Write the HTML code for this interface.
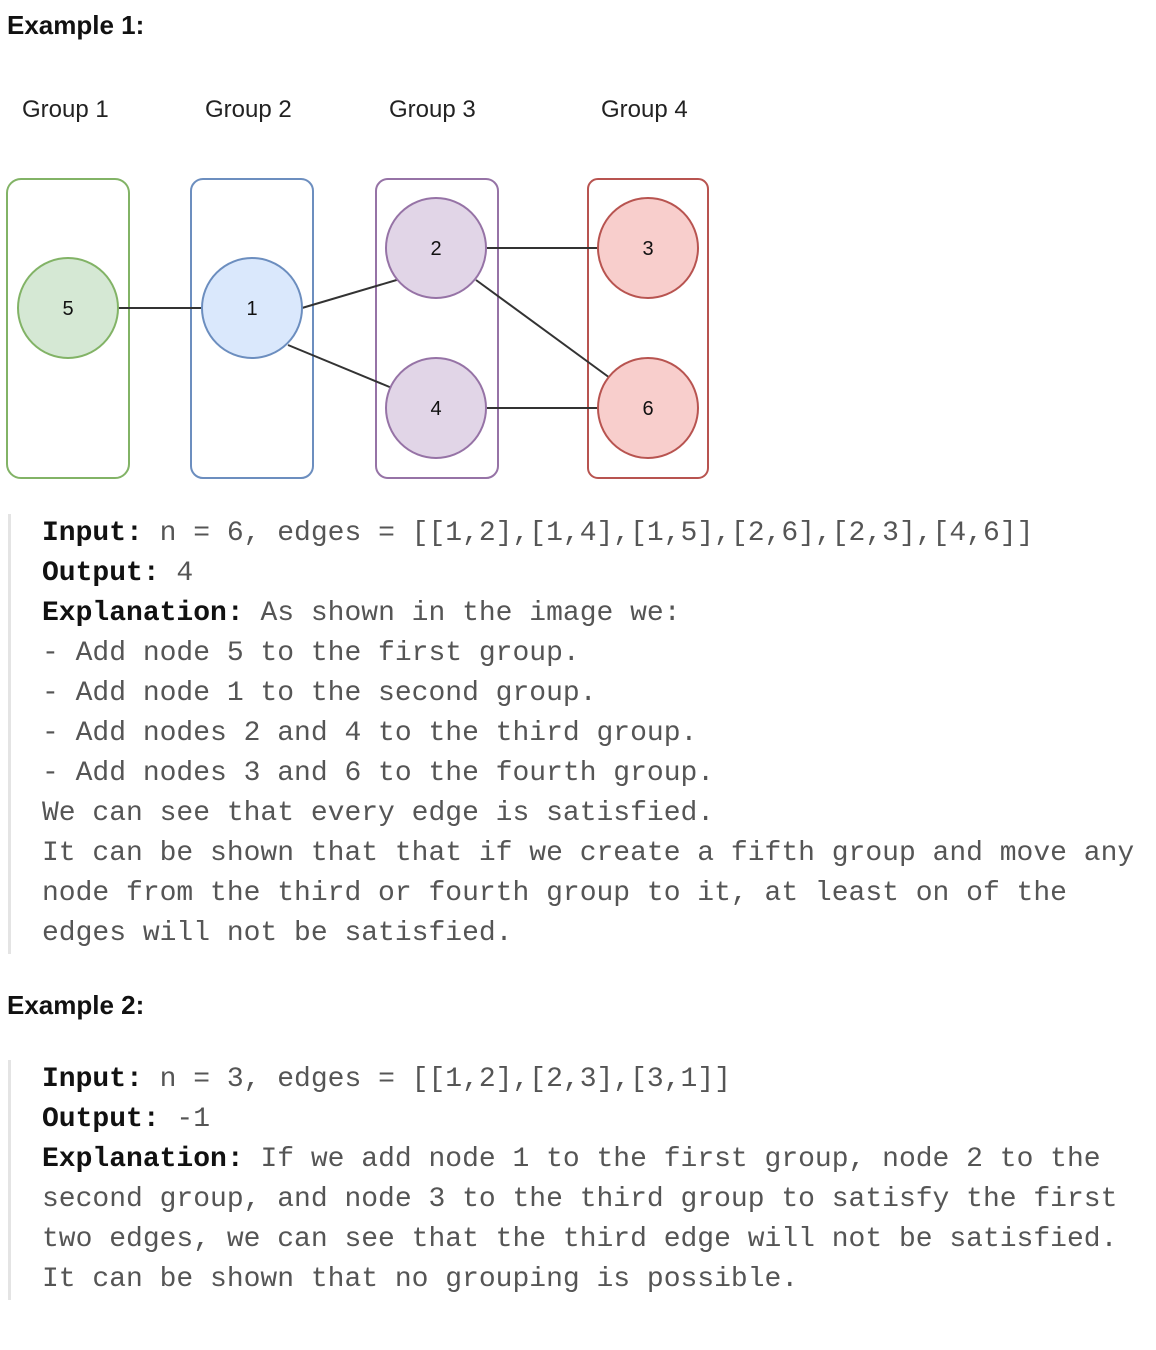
<!DOCTYPE html>
<html><head><meta charset="utf-8"><style>
body{margin:0;background:#fff;width:1156px;height:1350px;position:relative;font-family:"Liberation Sans",sans-serif;}
h3{position:absolute;margin:0;font-size:26px;font-weight:bold;color:#111;left:7px;}
.pre{position:absolute;left:8px;border-left:3px solid #e4e4e4;padding-left:31px;font-family:"Liberation Mono",monospace;font-size:28px;line-height:40px;color:#555;white-space:pre;}
.pre b{color:#111;}
</style></head><body>
<h3 style="top:10px">Example 1:</h3>
<svg style="position:absolute;left:0;top:80px" width="720" height="410" viewBox="0 80 720 410">
<g font-family="Liberation Sans,sans-serif" font-size="24" fill="#222">
<text x="22" y="117">Group 1</text><text x="205" y="117">Group 2</text><text x="389" y="117">Group 3</text><text x="601" y="117">Group 4</text>
</g>
<g fill="none" stroke-width="2">
<rect x="7" y="179" width="122" height="299" rx="14" stroke="#82b366"/>
<rect x="191" y="179" width="122" height="299" rx="12" stroke="#6c8ebf"/>
<rect x="376" y="179" width="122" height="299" rx="12" stroke="#9673a6"/>
<rect x="588" y="179" width="120" height="299" rx="10" stroke="#b85450"/>
</g>
<g stroke="#333" stroke-width="2">
<line x1="118" y1="308" x2="202" y2="308"/>
<line x1="302" y1="308" x2="400" y2="279"/>
<line x1="288" y1="345" x2="392" y2="388"/>
<line x1="486" y1="248" x2="598" y2="248"/>
<line x1="476" y1="280" x2="610" y2="378"/>
<line x1="486" y1="408" x2="598" y2="408"/>
</g>
<g stroke-width="2">
<circle cx="68" cy="308" r="50" fill="#d5e8d4" stroke="#82b366"/>
<circle cx="252" cy="308" r="50" fill="#dae8fc" stroke="#6c8ebf"/>
<circle cx="436" cy="248" r="50" fill="#e1d5e7" stroke="#9673a6"/>
<circle cx="436" cy="408" r="50" fill="#e1d5e7" stroke="#9673a6"/>
<circle cx="648" cy="248" r="50" fill="#f8cecc" stroke="#b85450"/>
<circle cx="648" cy="408" r="50" fill="#f8cecc" stroke="#b85450"/>
</g>
<g font-family="Liberation Sans,sans-serif" font-size="20" fill="#111" text-anchor="middle">
<text x="68" y="315">5</text><text x="252" y="315">1</text><text x="436" y="255">2</text><text x="436" y="415">4</text><text x="648" y="255">3</text><text x="648" y="415">6</text>
</g>
</svg>
<div class="pre" style="top:514px"><b>Input:</b> n = 6, edges = [[1,2],[1,4],[1,5],[2,6],[2,3],[4,6]]
<b>Output:</b> 4
<b>Explanation:</b> As shown in the image we:
- Add node 5 to the first group.
- Add node 1 to the second group.
- Add nodes 2 and 4 to the third group.
- Add nodes 3 and 6 to the fourth group.
We can see that every edge is satisfied.
It can be shown that that if we create a fifth group and move any
node from the third or fourth group to it, at least on of the
edges will not be satisfied.</div>
<h3 style="top:990px">Example 2:</h3>
<div class="pre" style="top:1060px"><b>Input:</b> n = 3, edges = [[1,2],[2,3],[3,1]]
<b>Output:</b> -1
<b>Explanation:</b> If we add node 1 to the first group, node 2 to the
second group, and node 3 to the third group to satisfy the first
two edges, we can see that the third edge will not be satisfied.
It can be shown that no grouping is possible.</div>
</body></html>
